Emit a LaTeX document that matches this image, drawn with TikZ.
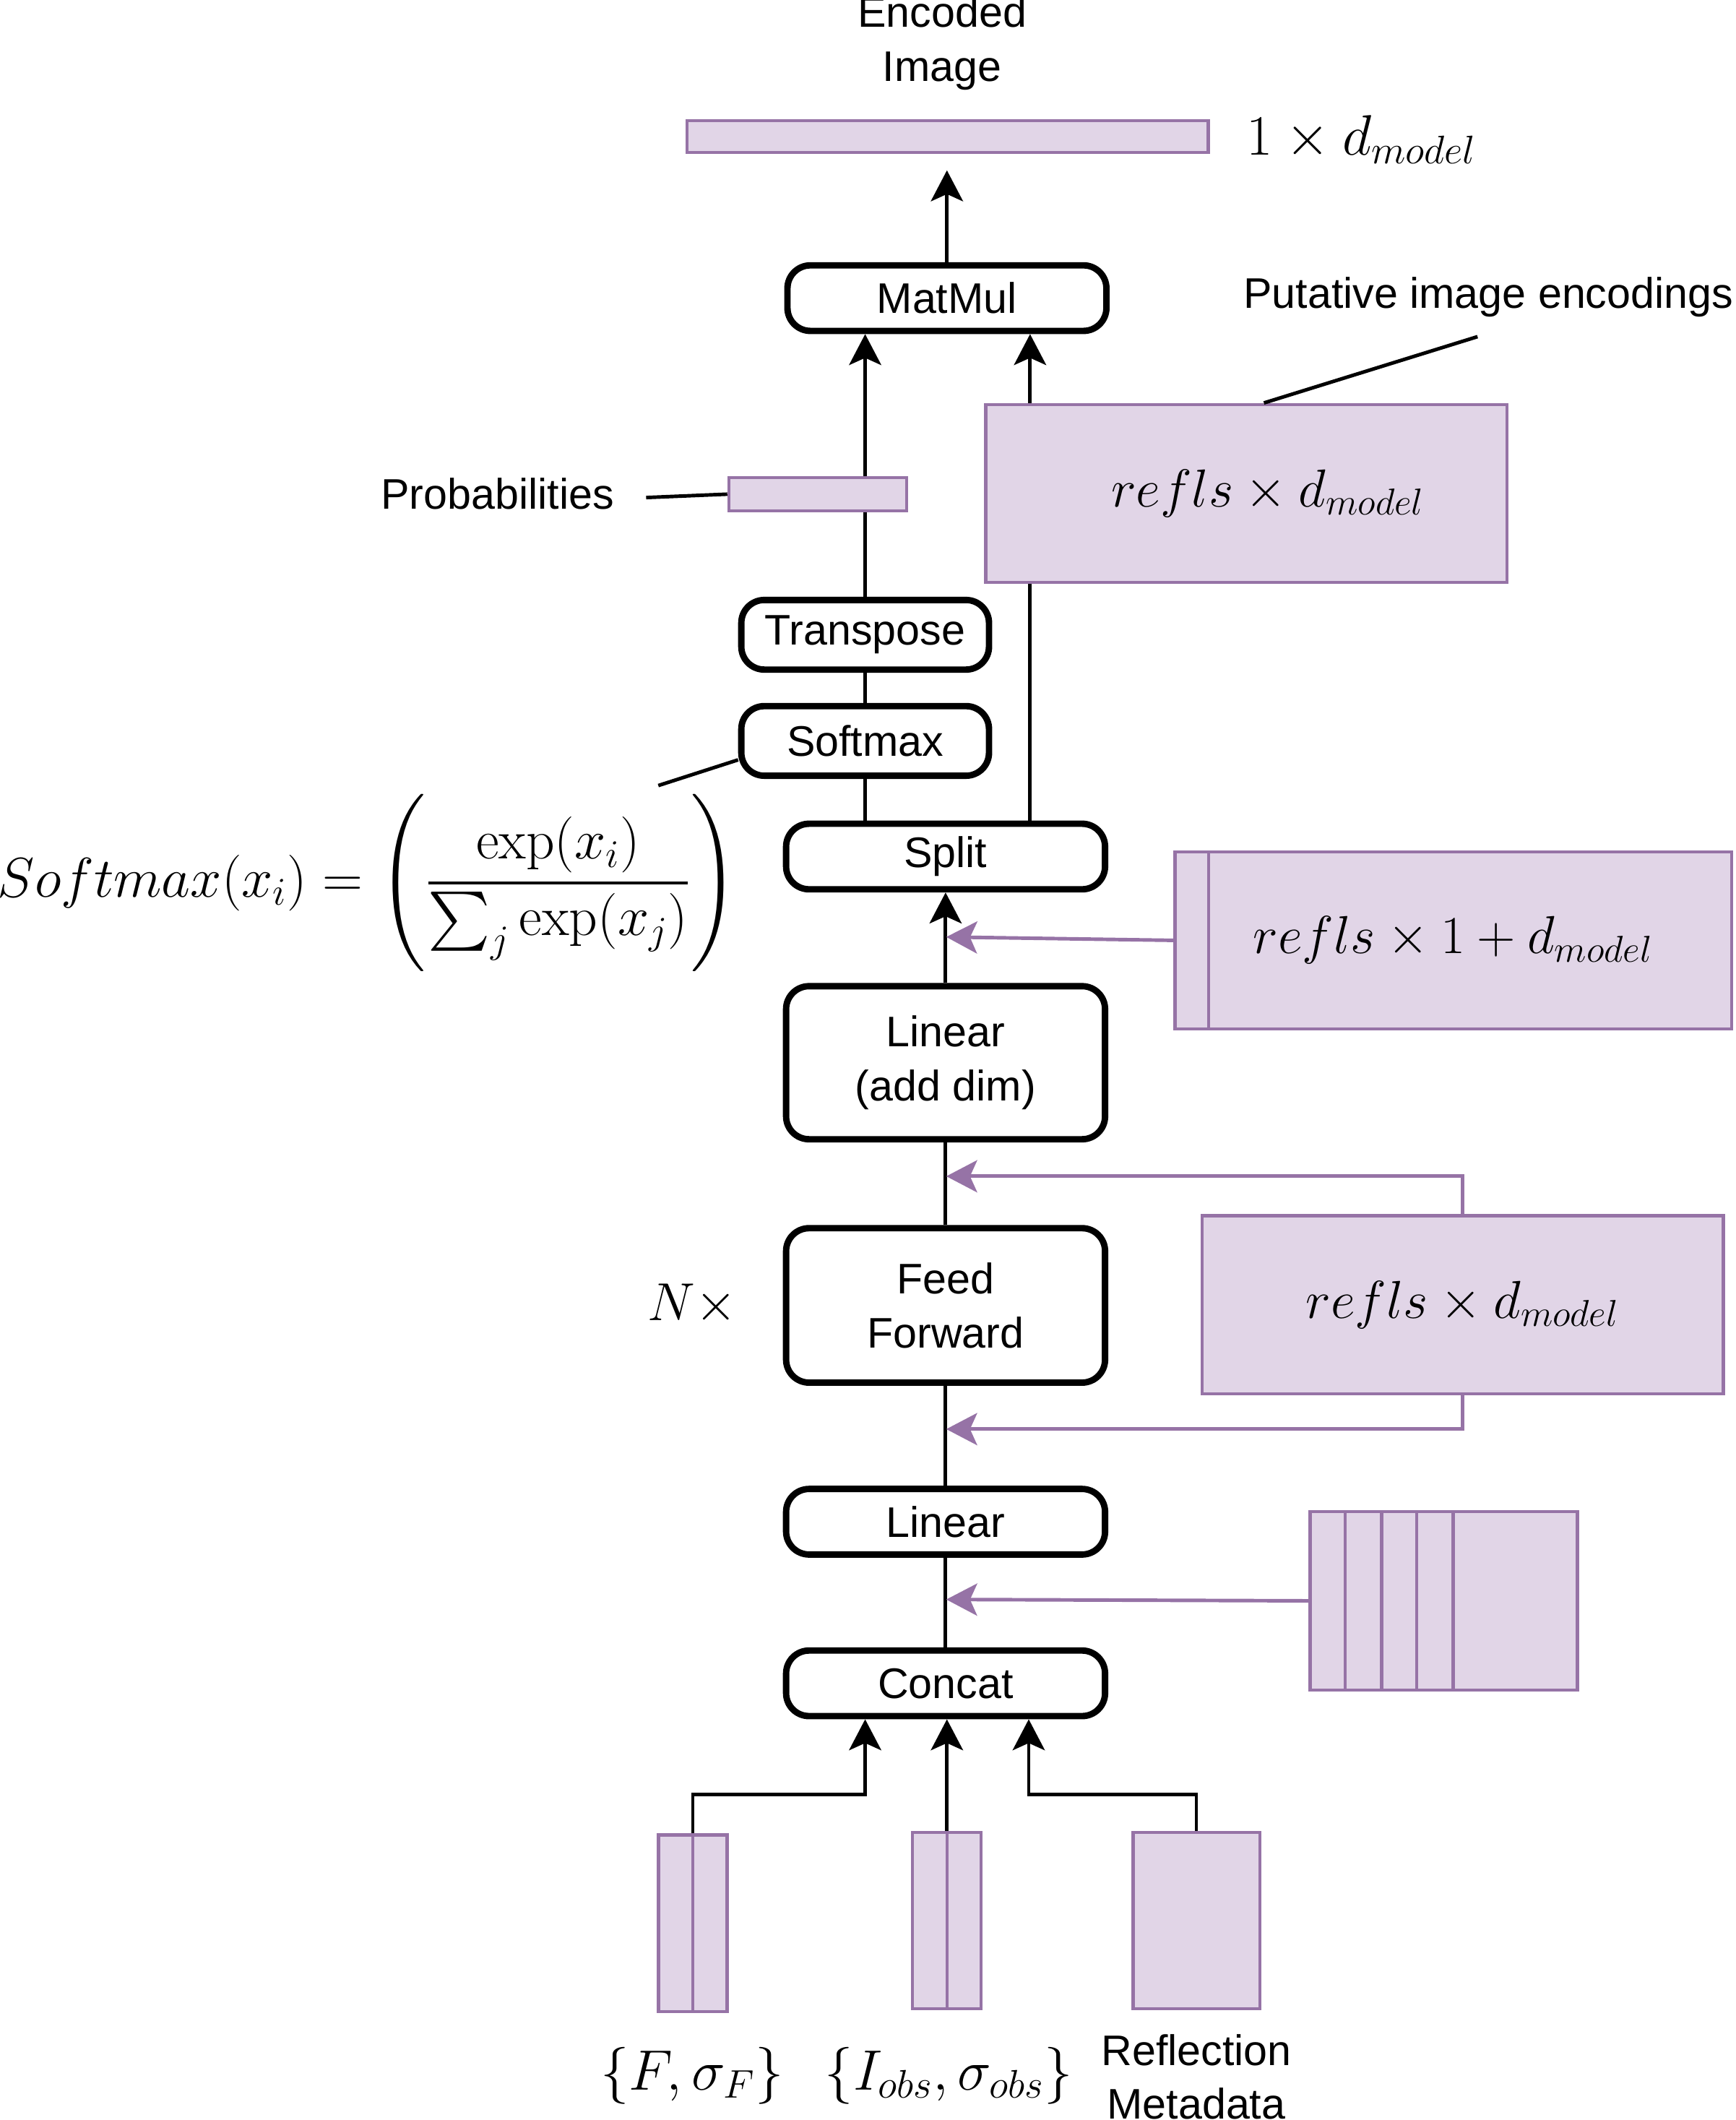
\documentclass[tikz,border=0pt]{standalone}
\usepackage{fix-cm}
\usepackage{exscale}
\usepackage{amsmath}
\usepackage[no-math]{fontspec}
\setmainfont{Liberation Sans}
\usetikzlibrary{arrows.meta,calc}

\definecolor{vecfill}{HTML}{E1D5E7}
\definecolor{vecdraw}{HTML}{9673A6}

\tikzset{
  op/.style={draw, line width=2.7pt, rounded corners=0.34cm, align=center, inner sep=0pt,
    minimum width=4.72cm, minimum height=0.97cm, font=\fontsize{18}{22.7}\selectfont},
  vec/.style={draw=vecdraw, fill=vecfill, line width=1.3pt, inner sep=0pt},
  divider/.style={draw=vecdraw, line width=1.3pt},
  flow/.style={line width=1.5pt, -{Stealth[length=13pt,width=13.5pt,inset=3pt]}},
  feed/.style={flow, draw=vecdraw},
  lbl/.style={align=center, font=\fontsize{18}{22.7}\selectfont},
  dims/.style={font=\fontsize{22.5}{27}\selectfont},
  bigdims/.style={font=\fontsize{24}{29}\selectfont},
}

\begin{document}
\begin{tikzpicture}[x=0.02cm, y=-0.02cm]
  \useasboundingbox (0,0) rectangle (1284,1568);

  % operation blocks
  \node[op] (matmul) at (700.5,220.5) {MatMul};
  \node[op, minimum width=3.665cm, minimum height=1.03cm] (transpose) at (640,469.5) {Transpose};
  \node[op, minimum width=3.665cm, minimum height=1.03cm] (softmax) at (640,548) {Softmax};
  \node[op] (split) at (699.5,633.5) {Split};
  \node[op, minimum height=2.265cm] (adddim) at (699.5,786) {Linear\\(add dim)};
  \node[op, minimum height=2.285cm] (ff) at (699.5,965.5) {Feed\\Forward};
  \node[op] (linear) at (699.5,1125.5) {Linear};
  \node[op] (concat) at (699.5,1245) {Concat};

  % joints
  \coordinate (splitR) at (762,607);
  \coordinate (j0) at (700,693);
  \coordinate (j1) at (700,870);
  \coordinate (j2) at (700,1057);
  \coordinate (j3) at (700,1183);
  \coordinate (cin1) at (640,1327);
  \coordinate (cin3) at (761,1327);
  \coordinate (probend) at (478,368);
  \coordinate (smend) at (487,581);
  \coordinate (putend) at (1093,249);

  % main column
  \draw[flow, shorten >=0.24cm] (matmul.north) -- (matmul.north |- 0,114);
  \draw[flow] (transpose.north) -- (transpose.north |- matmul.south);
  \draw[line width=1.5pt] (softmax.north) -- (transpose.south);
  \draw[line width=1.5pt] (split.north -| softmax.south) -- (softmax.south);
  \draw[flow] (adddim.north) -- (split.south);
  \draw[line width=1.5pt] (ff.north) -- (adddim.south);
  \draw[line width=1.5pt] (linear.north) -- (ff.south);
  \draw[line width=1.5pt] (concat.north) -- (linear.south);

  % vectors
  \node[vec, minimum width=7.714cm, minimum height=0.474cm] (encbar) at (701,101) {};
  \node[vec, minimum width=2.634cm, minimum height=0.494cm] (probs) at (605,365.5) {};
  \node[vec, minimum width=7.714cm, minimum height=2.634cm, dims] (putative) at (922,365)
    {\hspace*{0.64cm}$refls \times d_{model}$};
  \node[vec, minimum width=8.234cm, minimum height=2.614cm, dims] (splitrect) at (1075,695.5)
    {$refls \times 1 + d_{model}$};
  \draw[divider] (894,0 |- splitrect.north) -- (894,0 |- splitrect.south);
  \node[vec, minimum width=7.714cm, minimum height=2.634cm, dims] (ffrect) at (1082,965)
    {$refls \times d_{model}$};
  \node[vec, minimum width=3.954cm, minimum height=2.634cm] (multi) at (1068,1184) {};
  \foreach \xd in {995,1022,1048,1075}
    \draw[divider] (\xd,0 |- multi.north) -- (\xd,0 |- multi.south);
  \node[vec, minimum width=1.014cm, minimum height=2.614cm] (frect) at (512.5,1422.5) {};
  \draw[divider] (frect.north) -- (frect.south);
  \node[vec, minimum width=1.014cm, minimum height=2.614cm] (irect) at (700.5,1420.5) {};
  \draw[divider] (irect.north) -- (irect.south);
  \node[vec, minimum width=1.874cm, minimum height=2.614cm] (meta) at (885,1420.5) {};

  % side connections
  \draw[flow] (putative.north -| splitR) -- (splitR |- matmul.south);
  \draw[line width=1.5pt] (splitR) -- (splitR |- putative.south);
  \draw[feed] (splitrect.west) -- (j0);
  \draw[feed] (ffrect.north) |- (j1);
  \draw[feed] (ffrect.south) |- (j2);
  \draw[feed] (multi.west) -- (j3);
  \draw[flow] (frect.north) |- (cin1) -- (cin1 |- concat.south);
  \draw[flow] (irect.north) -- (irect.north |- concat.south);
  \draw[flow] (meta.north) |- (cin3) -- (cin3 |- concat.south);

  % labels
  \node[lbl] (enclab) at (697,32) {Encoded\\Image};
  \node[bigdims, anchor=west] (dimlab) at (916,103) {$1 \times d_{model}$};
  \node[lbl] (putlab) at (1101,220) {Putative image encodings};
  \draw[line width=1.5pt] ([xshift=0.26cm]putative.north) -- (putend);
  \node[lbl] (problab) at (368,365) {Probabilities};
  \draw[line width=1.5pt] (probend) -- (probs.west);
  \draw[line width=1.5pt] ([yshift=-0.28cm]softmax.west) -- (smend);
  \node[font=\fontsize{23.6}{28}\selectfont] (smeq) at (272,653)
    {$\displaystyle Softmax(x_i) = \Biggl(\frac{\exp(x_i)}{\sum_j \exp(x_j)}\Biggr)$};
  \node[dims] (nlab) at (512,965) {$N\times$};
  \node[bigdims] (flab) at (512,1535) {$\{F,\sigma_F\}$};
  \node[bigdims] (ilab) at (702,1535) {$\{I_{obs},\sigma_{obs}\}$};
  \node[lbl] (metalab) at (885,1536) {Reflection\\Metadata};
\end{tikzpicture}
\end{document}
